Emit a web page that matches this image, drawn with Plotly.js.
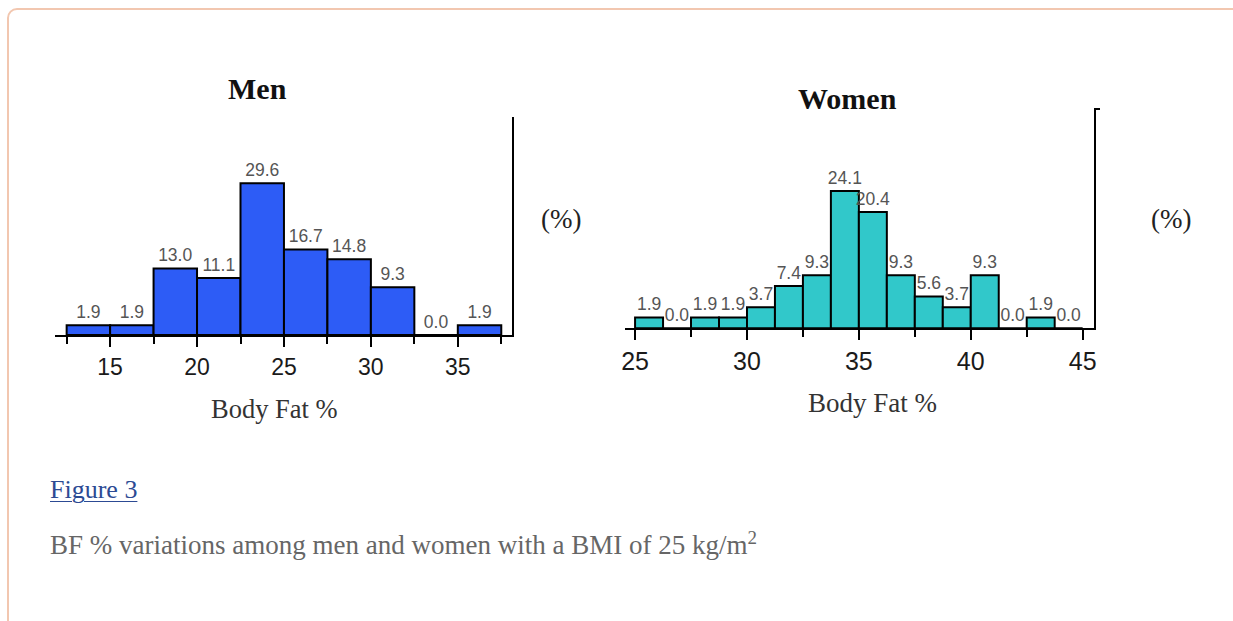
<!DOCTYPE html>
<html>
<head>
<meta charset="utf-8">
<script src="https://cdn.plot.ly/plotly-3.0.1.min.js"></script>
<style>
  html, body { margin: 0; padding: 0; background: #fff; width: 1233px; height: 621px; overflow: hidden; }
  #frame { position: absolute; left: 7px; top: 8px; width: 1260px; height: 700px;
           border: 2px solid #f2c7b0; border-radius: 10px; box-sizing: border-box; }
  #plot { position: absolute; left: 0; top: 0; width: 1233px; height: 621px; }
  .cap { position: absolute; font-family: "Liberation Serif", "Times New Roman", serif; line-height: 26px; white-space: nowrap; }
  #figlink { left: 50px; top: 477px; font-size: 26px; color: #2c4a93; text-decoration: underline; text-decoration-thickness: 1px; text-underline-offset: 3px; }
  #caption { left: 50px; top: 532px; font-size: 27px; color: #666; }
  #caption sup { font-size: 19px; line-height: 0; }
</style>
</head>
<body>
<div id="frame"></div>
<div id="plot"></div>
<div id="figlink" class="cap">Figure 3</div>
<div id="caption" class="cap">BF % variations among men and women with a BMI of 25 kg/m<sup>2</sup></div>
<script>
// Men: bins of 2.5 % body fat (centres), percentage of subjects
const menBinCenters = [13.75, 16.25, 18.75, 21.25, 23.75, 26.25, 28.75, 31.25, 33.75, 36.25];
const menPercent    = [1.9, 1.9, 13.0, 11.1, 29.6, 16.7, 14.8, 9.3, 0.0, 1.9];
// Women: bins of 1.25 % body fat (centres), percentage of subjects
const womenBinCenters = [25.625, 26.875, 28.125, 29.375, 30.625, 31.875, 33.125, 34.375,
                         35.625, 36.875, 38.125, 39.375, 40.625, 41.875, 43.125, 44.375];
const womenPercent    = [1.9, 0.0, 1.9, 1.9, 3.7, 7.4, 9.3, 24.1,
                         20.4, 9.3, 5.6, 3.7, 9.3, 0.0, 1.9, 0.0];
const menBinWidth = 2.5;
const womenBinWidth = 1.25;
const tickValues = [15, 20, 25, 30, 35, 40, 45];

const W = 1233, H = 621;
const px = v => v / W;
const py = v => 1 - v / H;

const barText = {family: "Arial, 'Liberation Sans', sans-serif", size: 17.5, color: '#555'};

const traces = [
  {
    type: 'bar', x: menBinCenters, y: menPercent, width: menBinWidth,
    xaxis: 'x', yaxis: 'y',
    marker: {color: '#2d5cf6', line: {color: '#000', width: 2}},
    texttemplate: '%{y:.1f}', textposition: 'outside', textfont: barText,
    cliponaxis: false, constraintext: 'none', hoverinfo: 'skip'
  },
  {
    type: 'bar', x: womenBinCenters, y: womenPercent, width: womenBinWidth,
    xaxis: 'x2', yaxis: 'y2',
    marker: {color: '#31c8ca', line: {color: '#000', width: 2}},
    texttemplate: '%{y:.1f}', textposition: 'outside', textfont: barText,
    cliponaxis: false, constraintext: 'none', hoverinfo: 'skip'
  }
];

const xCommon = {
  showline: true, linecolor: '#000', linewidth: 2,
  showgrid: false, zeroline: false,
  ticks: 'outside', tickvals: tickValues, ticklen: 10, tickwidth: 2, tickcolor: '#000',
  minor: {dtick: 2.5, tick0: 0, ticks: 'outside', ticklen: 7, tickwidth: 2, tickcolor: '#000', showgrid: false},
  fixedrange: true
};

const layout = {
  width: W, height: H,
  margin: {l: 0, r: 0, t: 0, b: 0},
  paper_bgcolor: 'rgba(0,0,0,0)', plot_bgcolor: 'rgba(0,0,0,0)',
  showlegend: false, bargap: 0,
  xaxis: Object.assign({}, xCommon, {
    domain: [px(55), px(511.7)], range: [11.83, 38.1], anchor: 'y',
    tickfont: {family: "Arial, 'Liberation Sans', sans-serif", size: 23, color: '#1a1a1a'}
  }),
  yaxis: {
    domain: [py(335), py(116.7)], range: [0, 42.6], anchor: 'x', side: 'right',
    showline: true, linecolor: '#000', linewidth: 2, showgrid: false, zeroline: false,
    ticks: '', showticklabels: false, fixedrange: true
  },
  xaxis2: Object.assign({}, xCommon, {
    domain: [px(625), px(1094.3)], range: [24.55, 45.52], anchor: 'y2',
    tickfont: {family: "Arial, 'Liberation Sans', sans-serif", size: 25, color: '#1a1a1a'}
  }),
  yaxis2: {
    domain: [py(328.3), py(108.3)], range: [0, 38.6], anchor: 'x2', side: 'right',
    showline: true, linecolor: '#000', linewidth: 2, showgrid: false, zeroline: false,
    ticks: 'outside', tickvals: [38.5], ticklen: 4, tickwidth: 2, tickcolor: '#000',
    showticklabels: false, fixedrange: true
  },
  annotations: [
    {text: '<b>Men</b>', xref: 'paper', yref: 'paper', x: px(257), y: py(89), showarrow: false,
     xanchor: 'center', yanchor: 'middle', font: {family: "'Liberation Serif', 'Times New Roman', serif", size: 30, color: '#111'}},
    {text: '<b>Women</b>', xref: 'paper', yref: 'paper', x: px(847), y: py(98.3), showarrow: false,
     xanchor: 'center', yanchor: 'middle', font: {family: "'Liberation Serif', 'Times New Roman', serif", size: 30, color: '#111'}},
    {text: 'Body Fat %', xref: 'paper', yref: 'paper', x: px(274), y: py(409.2), showarrow: false,
     xanchor: 'center', yanchor: 'middle', font: {family: "'Liberation Serif', 'Times New Roman', serif", size: 26.5, color: '#333'}},
    {text: 'Body Fat %', xref: 'paper', yref: 'paper', x: px(872.5), y: py(402.9), showarrow: false,
     xanchor: 'center', yanchor: 'middle', font: {family: "'Liberation Serif', 'Times New Roman', serif", size: 27, color: '#333'}},
    {text: '(%)', xref: 'paper', yref: 'paper', x: px(561), y: py(219), showarrow: false,
     xanchor: 'center', yanchor: 'middle', font: {family: "'Liberation Serif', 'Times New Roman', serif", size: 27, color: '#222'}},
    {text: '(%)', xref: 'paper', yref: 'paper', x: px(1171), y: py(219), showarrow: false,
     xanchor: 'center', yanchor: 'middle', font: {family: "'Liberation Serif', 'Times New Roman', serif", size: 27, color: '#222'}}
  ]
};

Plotly.newPlot('plot', traces, layout, {staticPlot: true, displayModeBar: false});
</script>
</body>
</html>
